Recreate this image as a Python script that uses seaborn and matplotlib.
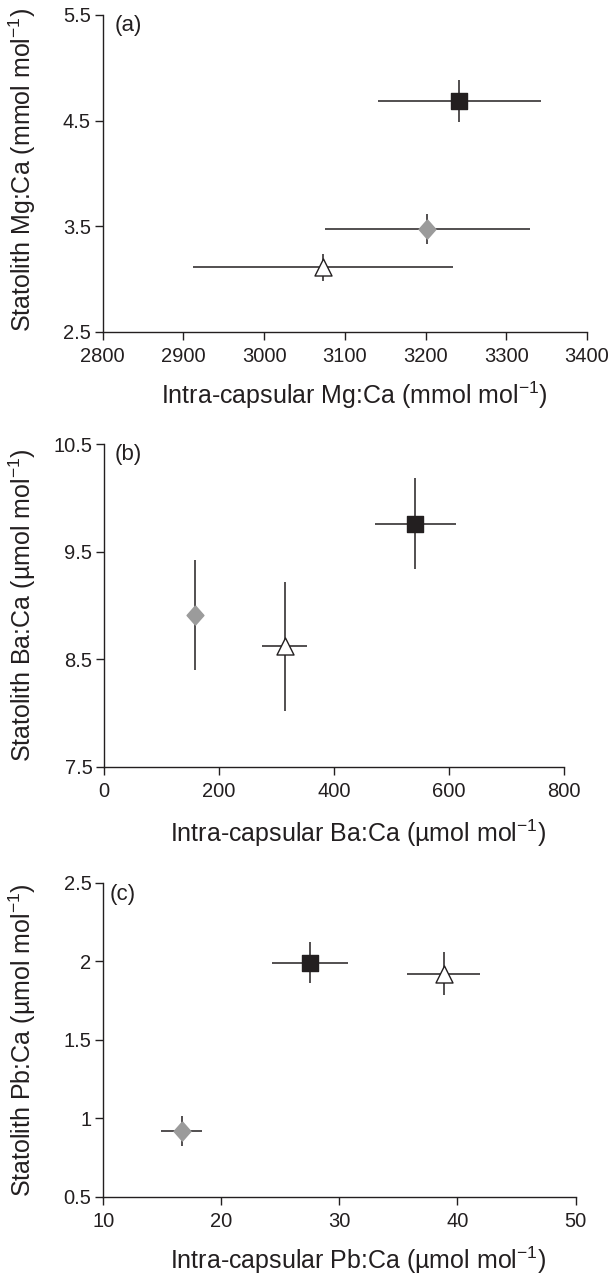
import numpy as np
import pandas as pd
import matplotlib
matplotlib.use("Agg")
import matplotlib.pyplot as plt
import seaborn as sns

# ---------------- data ----------------
groups = ["square", "diamond", "triangle"]

mg_x = [3242, 3202, 3073]
mg_y = [4.685, 3.473, 3.11]
mg_xerr = [101, 127, 161]
mg_yerr = [0.20, 0.145, 0.127]

ba_x = [542, 158, 314]
ba_y = [9.76, 8.91, 8.62]
ba_xerr = [70, 8, 40]
ba_yerr = [0.42, 0.51, 0.60]

pb_x = [27.5, 16.65, 38.85]
pb_y = [1.99, 0.92, 1.92]
pb_xerr = [3.2, 1.75, 3.1]
pb_yerr = [0.13, 0.093, 0.137]

xlabels = [r"Intra-capsular Mg:Ca (mmol mol$^{-1}$)",
           r"Intra-capsular Ba:Ca (µmol mol$^{-1}$)",
           r"Intra-capsular Pb:Ca (µmol mol$^{-1}$)"]
ylabels = [r"Statolith Mg:Ca (mmol mol$^{-1}$)",
           r"Statolith Ba:Ca (µmol mol$^{-1}$)",
           r"Statolith Pb:Ca (µmol mol$^{-1}$)"]
panel_tags = ["(a)", "(b)", "(c)"]

xticks_a = [2800, 2900, 3000, 3100, 3200, 3300, 3400]
yticks_a = [2.5, 3.5, 4.5, 5.5]
xticks_b = [0, 200, 400, 600, 800]
yticks_b = [7.5, 8.5, 9.5, 10.5]
xticks_c = [10, 20, 30, 40, 50]
yticks_c = [0.5, 1, 1.5, 2, 2.5]
yticklabels_c = ["0.5", "1", "1.5", "2", "2.5"]

# ---------------- style ----------------
sns.set_theme(style="ticks")
plt.rcParams["font.family"] = ["Liberation Sans", "DejaVu Sans"]
plt.rcParams["mathtext.fontset"] = "custom"
plt.rcParams["mathtext.rm"] = "Liberation Sans"
plt.rcParams["mathtext.default"] = "regular"

INK = "#231f20"
GREY = "#9b9b9b"
diamond_marker = [(0, 1), (0.88, 0), (0, -1), (-0.88, 0), (0, 1)]
marker_map = {"square": "s", "diamond": diamond_marker, "triangle": "^"}
face_map = {"square": INK, "diamond": GREY, "triangle": "white"}
edge_map = {"square": INK, "diamond": GREY, "triangle": INK}
size_map = {"square": 135, "diamond": 190, "triangle": 150}

fig = plt.figure(figsize=(6.11, 12.77), dpi=100)

W, H = 611, 1277
def add_ax(l, r, t, b):
    return fig.add_axes([l / W, 1 - b / H, (r - l) / W, (b - t) / H])

axes = [add_ax(102.7, 587.0, 15.0, 331.7),
        add_ax(104.3, 563.5, 444.0, 766.7),
        add_ax(103.3, 575.5, 882.7, 1197.0)]

datasets = [(mg_x, mg_y, mg_xerr, mg_yerr),
            (ba_x, ba_y, ba_xerr, ba_yerr),
            (pb_x, pb_y, pb_xerr, pb_yerr)]
limits = [((2800, 3400), (2.5, 5.5)),
          ((0, 800), (7.5, 10.5)),
          ((10, 50), (0.5, 2.5))]
ticks = [(xticks_a, yticks_a, None),
         (xticks_b, yticks_b, None),
         (xticks_c, yticks_c, yticklabels_c)]
ylab_x = [(22 - 102.7) / 484.3, (22 - 104.3) / 459.2, (22 - 103.3) / 472.2]
ylab_y = [0.51, 0.5, 0.5]
xlab_x = [0.519, 0.5525, 0.540]
xlab_y = [-0.200, -0.2055, -0.2004]
tag_pos = [(0.025, 0.968), (0.023, 0.966), (0.014, 0.961)]

for i, ax in enumerate(axes):
    xs, ys, xe, ye = datasets[i]
    df = pd.DataFrame({"group": groups, "x": xs, "y": ys, "xerr": xe, "yerr": ye})
    ax.errorbar(df["x"], df["y"], xerr=df["xerr"], yerr=df["yerr"], fmt="none",
                ecolor=INK, elinewidth=1.1, capsize=0, zorder=2)
    for g in groups:
        sub = df[df["group"] == g]
        sns.scatterplot(data=sub, x="x", y="y", ax=ax, marker=marker_map[g],
                        s=size_map[g], color=face_map[g], edgecolor=edge_map[g],
                        linewidth=1.0, zorder=3, legend=False)
    (x0, x1), (y0, y1) = limits[i]
    ax.set_xlim(x0, x1)
    ax.set_ylim(y0, y1)
    xt, yt, ytl = ticks[i]
    ax.set_xticks(xt)
    ax.set_yticks(yt)
    if ytl is not None:
        ax.set_yticklabels(ytl)
    sns.despine(ax=ax)
    for s in ["left", "bottom"]:
        ax.spines[s].set_color(INK)
        ax.spines[s].set_linewidth(1.0)
    ax.tick_params(axis="both", direction="out", length=6, width=1.0,
                   color=INK, labelcolor=INK, labelsize=14.5)
    ax.tick_params(axis="x", pad=5)
    ax.tick_params(axis="y", pad=2.5)
    ax.set_xlabel(xlabels[i], fontsize=18, color=INK, va="center", ha="center")
    ax.set_ylabel(ylabels[i], fontsize=18, color=INK, va="center", ha="center")
    ax.xaxis.set_label_coords(xlab_x[i], xlab_y[i])
    ax.yaxis.set_label_coords(ylab_x[i], ylab_y[i])
    ax.text(tag_pos[i][0], tag_pos[i][1], panel_tags[i], transform=ax.transAxes,
            ha="left", va="center", fontsize=16, color=INK)
    ax.set_facecolor("white")

fig.savefig("out.png", dpi=100, facecolor="white")
